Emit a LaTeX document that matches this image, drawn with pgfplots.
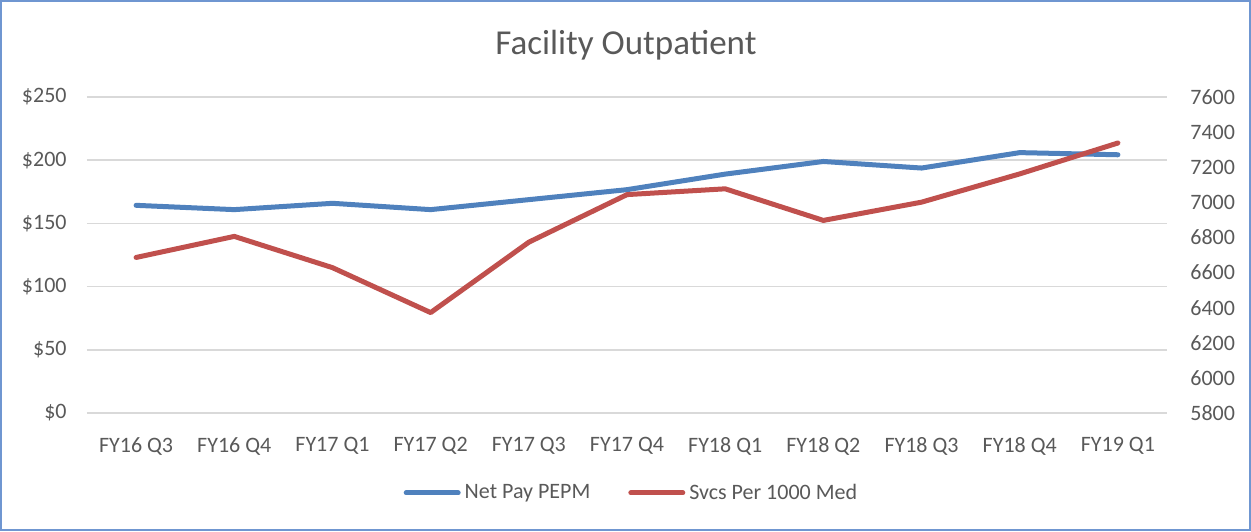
\documentclass[border=0pt]{standalone}
\usepackage{pgfplots}
\pgfplotsset{compat=1.18}
\usepackage{fontspec}
\setmainfont{Carlito}
\definecolor{txt}{HTML}{595959}
\definecolor{grd}{HTML}{D9D9D9}
\definecolor{sblue}{HTML}{4F81BD}
\definecolor{sred}{HTML}{C0504D}
\definecolor{framec}{HTML}{6F96D1}
\begin{document}
\begin{tikzpicture}
\draw[framec, line width=1pt] (0.5pt,0.5pt) rectangle (625pt,265pt);
\node[txt, font=\fontsize{17.5}{20}\selectfont] at (313pt,243pt) {Facility Outpatient};
\begin{axis}[
  at={(43.5pt,59pt)}, anchor=south west,
  scale only axis, width=540pt, height=158pt,
  xmin=-0.5, xmax=10.5, ymin=0, ymax=250,
  xtick={0,...,10},
  xticklabels={FY16 Q3,FY16 Q4,FY17 Q1,FY17 Q2,FY17 Q3,FY17 Q4,FY18 Q1,FY18 Q2,FY18 Q3,FY18 Q4,FY19 Q1},
  ytick={0,50,...,250},
  yticklabels={\$0,\$50,\$100,\$150,\$200,\$250},
  axis line style={draw=none}, major tick length=0pt,
  ymajorgrids, grid style={grd, line width=0.75pt},
  tick label style={text=txt, font=\fontsize{11}{13}\selectfont, inner sep=0pt},
  yticklabel style={xshift=-10pt},
  xticklabel style={yshift=-12pt},
]
\addplot[sblue, line width=2.5pt, line join=round, line cap=round] coordinates {
(0,164.3) (1,160.9) (2,165.9) (3,160.9) (4,168.8) (5,176.7) (6,189.0) (7,199.0) (8,193.8) (9,206.0) (10,204.3)};
\end{axis}
\begin{axis}[
  at={(43.5pt,59pt)}, anchor=south west,
  scale only axis, width=540pt, height=158pt,
  xmin=-0.5, xmax=10.5, ymin=5800, ymax=7600,
  axis x line=none, axis y line*=right,
  ytick={5800,6000,...,7600},
  yticklabels={5800,6000,6200,6400,6600,6800,7000,7200,7400,7600},
  axis line style={draw=none}, major tick length=0pt,
  tick label style={text=txt, font=\fontsize{11}{13}\selectfont, inner sep=0pt},
  yticklabel style={xshift=11.5pt},
  legend style={at={(0.505,-0.253)}, anchor=center, draw=none, fill=none,
    legend columns=2, font=\fontsize{11}{13}\selectfont, text=txt,
    /tikz/every even column/.append style={column sep=17pt}},
  legend image code/.code={\draw[#1, line cap=round] (0pt,0pt) -- (26pt,0pt);},
]
\addlegendimage{sblue, line width=2.5pt}
\addlegendentry{Net Pay PEPM}
\addplot[sred, line width=2.5pt, line join=round, line cap=round] coordinates {
(0,6686) (1,6806) (2,6628) (3,6372) (4,6773) (5,7044) (6,7077) (7,6897) (8,7001) (9,7162) (10,7338)};
\addlegendentry{Svcs Per 1000 Med}
\end{axis}
\end{tikzpicture}
\end{document}
